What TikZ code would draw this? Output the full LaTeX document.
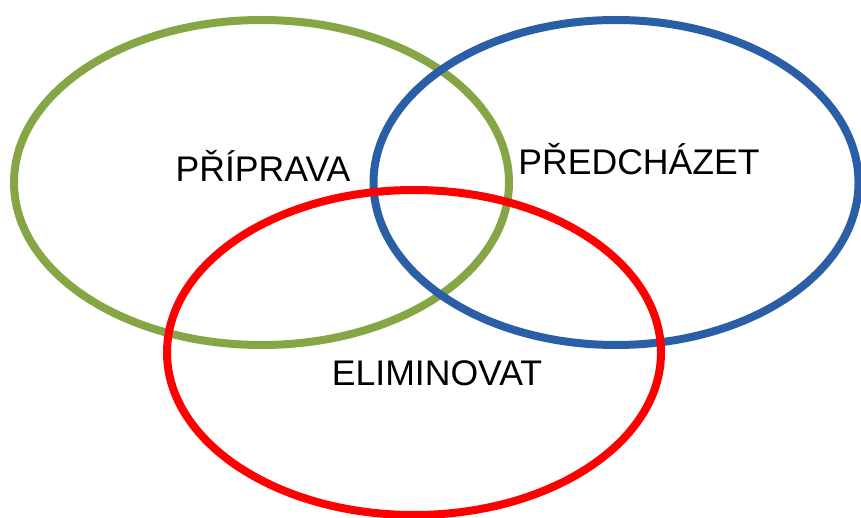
\documentclass[tikz,border=0pt]{standalone}
\usepackage{fontspec}
\setmainfont{Liberation Sans}
\begin{document}
\begin{tikzpicture}[x=1pt,y=-1pt,
  ring/.style={line width=8pt},
  lbl/.style={anchor=base,inner sep=0pt,font=\fontsize{35.6}{42}\selectfont}]
\definecolor{ringgreen}{RGB}{134,166,70}
\definecolor{ringblue}{RGB}{42,95,168}
\definecolor{ringred}{RGB}{255,0,0}
\useasboundingbox (0,0) rectangle (861,518);
% the three overlapping sets
\draw[ring,ringgreen] (261.5,182.5) ellipse [x radius=247.5, y radius=162.5];
\draw[ring,ringblue] (616,182.5) ellipse [x radius=242.5, y radius=162.5];
\draw[ring,ringred] (414,352.5) ellipse [x radius=247, y radius=162.5];
% set labels
\node[lbl] (prep) at (263,182) {PŘÍPRAVA};
\node[lbl] (pred) at (639,175) {PŘEDCHÁZET};
\node[lbl] (elim) at (437,385) {ELIMINOVAT};
\end{tikzpicture}
\end{document}
